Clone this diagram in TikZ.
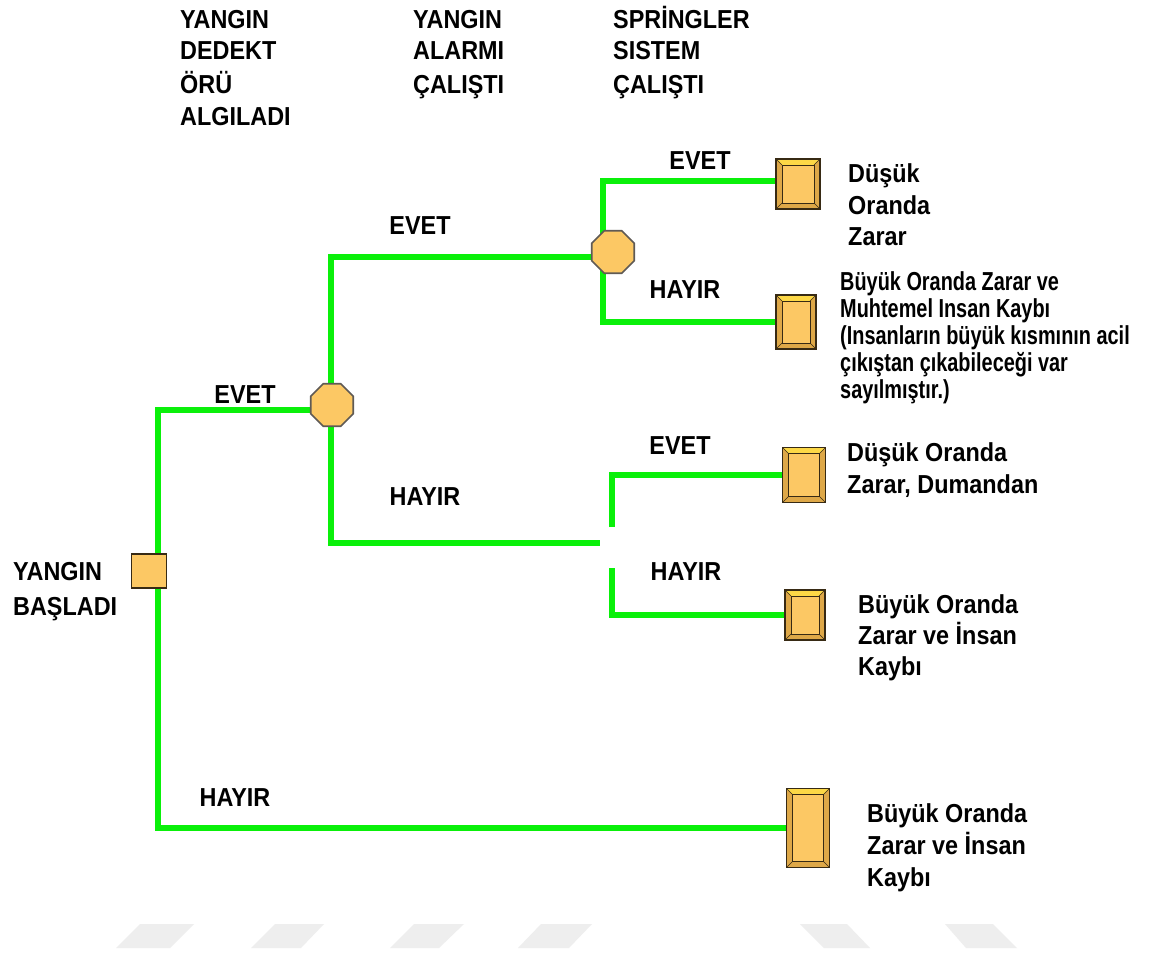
\documentclass[tikz,border=0pt]{standalone}
\usepackage{fontspec}
\setmainfont{Liberation Sans}[FakeStretch=0.9]
\newfontfamily\narrowfnt{Liberation Sans}[FakeStretch=0.765]
\usetikzlibrary{shapes.geometric,backgrounds}
\definecolor{brgreen}{RGB}{10,240,10}
\definecolor{boxfill}{RGB}{252,200,100}
\definecolor{boxmid}{RGB}{222,168,72}
\definecolor{boxedge}{RGB}{55,42,20}
\definecolor{octedge}{RGB}{95,90,85}
\definecolor{wmark}{RGB}{238,238,238}
\tikzset{
  br/.style={draw=brgreen, line width=6pt},
  evt/.style={regular polygon, regular polygon sides=8, minimum size=46pt, inner sep=0pt,
    fill=boxfill, draw=octedge, line width=1.6pt},
  startsq/.style={rectangle, minimum width=35pt, minimum height=34pt, inner sep=0pt,
    fill=boxfill, draw=boxedge, line width=1.6pt},
  outbox/.style 2 args={rectangle, minimum width=#1, minimum height=#2, inner sep=0pt,
    fill=boxmid, draw=boxedge, line width=1.8pt,
    path picture={
      \coordinate (pnw) at (path picture bounding box.north west);
      \coordinate (pse) at (path picture bounding box.south east);
      \coordinate (pne) at (path picture bounding box.north east);
      \coordinate (psw) at (path picture bounding box.south west);
      \fill[boxfill!70!yellow] (pnw) -- (pne) -- ([shift={(-6pt,-6pt)}]pne) -- ([shift={(6pt,-6pt)}]pnw) -- cycle;
      \draw[boxedge, line width=1pt, fill=boxfill] ([shift={(6pt,-6pt)}]pnw) rectangle ([shift={(-6pt,6pt)}]pse);
      \draw[boxedge, line width=0.6pt] (pnw) -- ([shift={(6pt,-6pt)}]pnw) (pne) -- ([shift={(-6pt,-6pt)}]pne)
        (pse) -- ([shift={(-6pt,6pt)}]pse) (psw) -- ([shift={(6pt,6pt)}]psw);
    }},
  lbl/.style={font=\fontsize{26}{32}\selectfont\bfseries, inner sep=0pt},
  ln/.style={font=\fontsize{26}{32}\selectfont\bfseries, inner sep=0pt, anchor=base west},
  nln/.style={font=\fontsize{26}{32}\selectfont\narrowfnt\bfseries, inner sep=0pt, anchor=base west}
}
\begin{document}
\begin{tikzpicture}[x=1pt,y=-1pt]
\useasboundingbox (0,0) rectangle (1168,954);
% watermark
\fill[wmark] (116,948)--(140,924)--(194,924)--(170,948)--cycle;
\fill[wmark] (251,948)--(275,924)--(324,924)--(301,948)--cycle;
\fill[wmark] (390,948)--(414,924)--(464,924)--(439,948)--cycle;
\fill[wmark] (518,948)--(541,924)--(592,924)--(569,948)--cycle;
\fill[wmark] (800,924)--(847,924)--(870,948)--(824,948)--cycle;
\fill[wmark] (945,924)--(993,924)--(1017,948)--(966,948)--cycle;

% headers
\node[ln] (h1a) at (180,28) {YANGIN};
\node[ln] (h1b) at (180,59) {DEDEKT};
\node[ln] (h1c) at (180,93) {ÖRÜ};
\node[ln] (h1d) at (180,125) {ALGILADI};
\node[ln] (h2a) at (413,28) {YANGIN};
\node[ln] (h2b) at (413,59) {ALARMI};
\node[ln] (h2c) at (413,93) {ÇALIŞTI};
\node[ln] (h3a) at (613,28) {SPRİNGLER};
\node[ln] (h3b) at (613,59) {SISTEM};
\node[ln] (h3c) at (613,93) {ÇALIŞTI};

% nodes
\node[startsq] (root) at (149,571) {};
\node[evt] (o1) at (332,405) {};
\node[evt] (o2) at (613,252) {};
\node[outbox={44pt}{50pt}] (b1) at (798,184) {};
\node[outbox={40pt}{54pt}] (b2) at (796,322) {};
\node[outbox={43pt}{55pt}] (b3) at (804,475) {};
\node[outbox={40pt}{50pt}] (b4) at (805,615) {};
\node[outbox={43pt}{79pt}] (b5) at (808,828) {};

\coordinate (t1) at (158,410);
\coordinate (t2) at (158,828);
\coordinate (c1) at (331,410);
\coordinate (c2) at (331,257);
\coordinate (g1) at (600,543);
\coordinate (d1) at (603,257);
\coordinate (s1) at (612,527);
\coordinate (s2) at (612,568);

\begin{pgfonlayer}{background}
\fill[white] (0,0) rectangle (1168,954);
\draw[br] (c1) -- (t1) -- (t2) -- (b5.west |- t2);
\draw[br] (c1) -- (c2) -- (o2.center |- c2);
\draw[br] (c1) |- (g1);
\draw[br] (d1) |- (b1.west |- 0,181);
\draw[br] (d1) |- (b2.west |- 0,322);
\draw[br] (s1) |- (b3.center);
\draw[br] (s2) |- (b4.center);
\end{pgfonlayer}

% branch labels
\node[lbl] (l1) at (700,161) {EVET};
\node[lbl] (l2) at (420,226) {EVET};
\node[lbl] (l3) at (685,290) {HAYIR};
\node[lbl] (l4) at (245,395) {EVET};
\node[lbl] (l5) at (425,497) {HAYIR};
\node[lbl] (l6) at (680,446) {EVET};
\node[lbl] (l7) at (686,572) {HAYIR};
\node[lbl] (l8) at (235,798) {HAYIR};

% left label
\node[ln] (st1) at (13,580) {YANGIN};
\node[ln] (st2) at (13,615) {BAŞLADI};

% outcomes
\node[ln] (r1a) at (848,182) {Düşük};
\node[ln] (r1b) at (848,214) {Oranda};
\node[ln] (r1c) at (848,245) {Zarar};
\node[nln] (r2a) at (840,290) {Büyük Oranda Zarar ve};
\node[nln] (r2b) at (840,317) {Muhtemel Insan Kaybı};
\node[nln] (r2c) at (840,344) {(Insanların büyük kısmının acil};
\node[nln] (r2d) at (840,371) {çıkıştan çıkabileceği var};
\node[nln] (r2e) at (840,398) {sayılmıştır.)};
\node[ln] (r3a) at (847,461) {Düşük Oranda};
\node[ln] (r3b) at (847,493) {Zarar, Dumandan};
\node[ln] (r4a) at (858,613) {Büyük Oranda};
\node[ln] (r4b) at (858,644) {Zarar ve İnsan};
\node[ln] (r4c) at (858,675) {Kaybı};
\node[ln] (r5a) at (867,822) {Büyük Oranda};
\node[ln] (r5b) at (867,854) {Zarar ve İnsan};
\node[ln] (r5c) at (867,886) {Kaybı};
\end{tikzpicture}
\end{document}
